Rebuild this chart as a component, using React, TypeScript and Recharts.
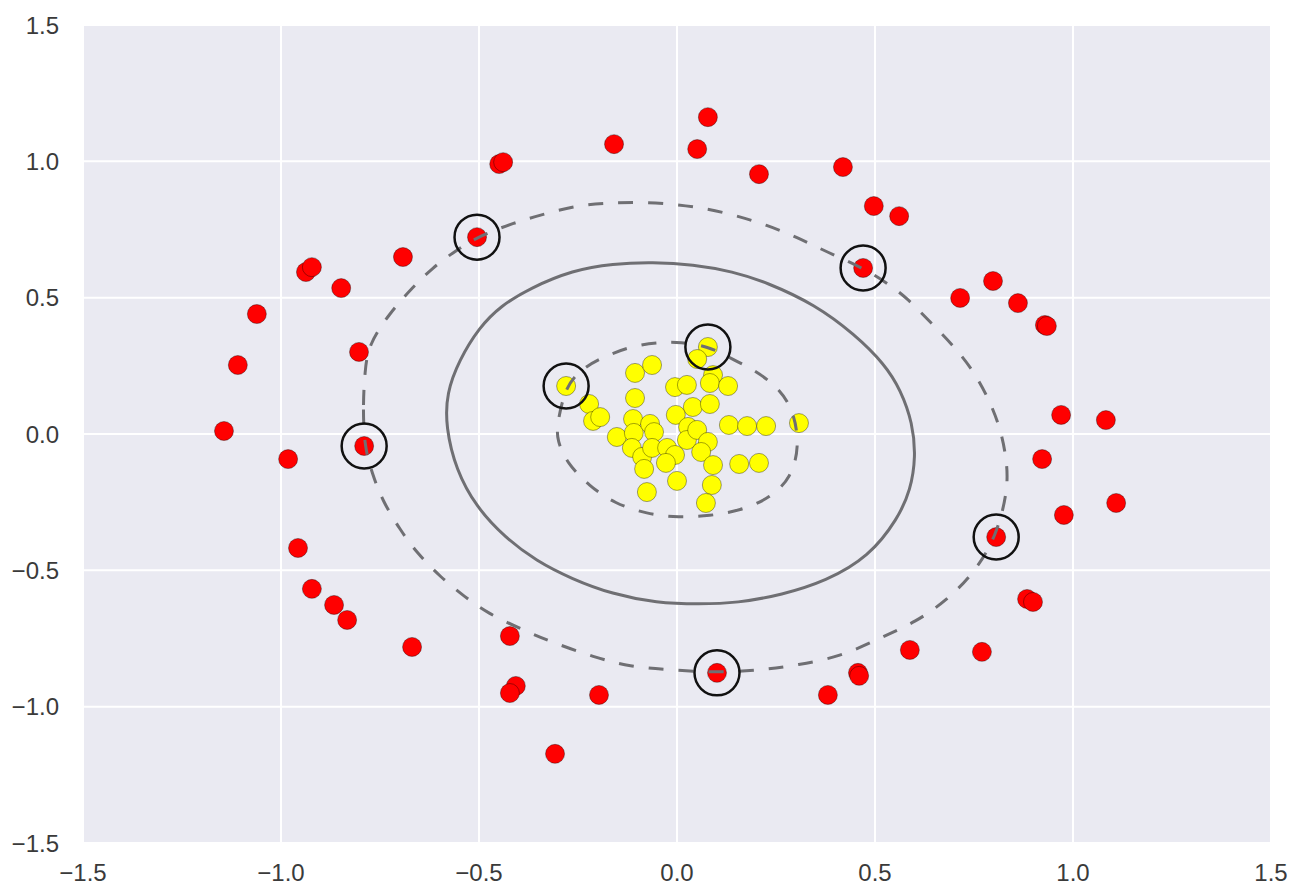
import { ScatterChart, Scatter, XAxis, YAxis, CartesianGrid } from 'recharts'

// outer ring (class 1, red)
const redPoints = [
  [-1.144, 0.011], [-1.109, 0.253], [-1.061, 0.44], [-0.937, 0.594], [-0.922, 0.612],
  [-0.848, 0.535], [-0.803, 0.301], [-0.692, 0.649], [-0.982, -0.092], [-0.79, -0.044],
  [-0.957, -0.418], [-0.922, -0.568], [-0.866, -0.627], [-0.833, -0.682], [-0.669, -0.781],
  [-0.505, 0.722], [-0.449, 0.99], [-0.439, 0.997], [-0.159, 1.063], [0.051, 1.045],
  [0.078, 1.162], [0.207, 0.953], [0.419, 0.979], [0.497, 0.836], [0.561, 0.799],
  [0.47, 0.609], [0.715, 0.499], [0.798, 0.561], [0.861, 0.48], [0.929, 0.4],
  [0.934, 0.396], [0.97, 0.07], [1.083, 0.051], [0.922, -0.092], [1.109, -0.253],
  [0.977, -0.297], [0.806, -0.378], [0.884, -0.605], [0.899, -0.616], [0.77, -0.799],
  [0.588, -0.792], [0.457, -0.876], [0.46, -0.887], [0.381, -0.957], [0.101, -0.876],
  [-0.197, -0.957], [-0.422, -0.741], [-0.407, -0.924], [-0.422, -0.95], [-0.308, -1.173],
]

// inner blob (class 0, yellow)
const yellowPoints = [
  [-0.28, 0.176], [-0.222, 0.11], [-0.212, 0.048], [-0.194, 0.062], [-0.106, 0.224],
  [-0.063, 0.253], [-0.106, 0.132], [-0.152, -0.011], [-0.111, 0.055], [-0.109, 0.004],
  [-0.068, 0.037], [-0.058, 0.007], [-0.114, -0.051], [-0.088, -0.084], [-0.083, -0.128],
  [-0.063, -0.051], [-0.025, -0.051], [-0.005, -0.077], [-0.028, -0.106], [0.0, -0.172],
  [-0.076, -0.213], [-0.005, 0.172], [0.025, 0.18], [0.078, 0.319], [0.051, 0.275],
  [0.091, 0.216], [0.083, 0.187], [0.129, 0.176], [0.04, 0.099], [0.083, 0.11],
  [-0.003, 0.07], [0.028, 0.026], [0.025, -0.022], [0.051, 0.015], [0.078, -0.029],
  [0.061, -0.066], [0.091, -0.114], [0.088, -0.187], [0.073, -0.253], [0.131, 0.033],
  [0.177, 0.029], [0.225, 0.029], [0.157, -0.11], [0.207, -0.106], [0.308, 0.04],
]

const supportVectors = [
  [-0.505, 0.722], [0.47, 0.609], [0.806, -0.378], [0.101, -0.876],
  [-0.79, -0.044], [-0.28, 0.176], [0.078, 0.319],
]

// decision function contours (closed loops)
const outerMargin = [
  [-0.79, -0.044], [-0.793, 0.114], [-0.788, 0.227], [-0.78, 0.326], [-0.725, 0.444],
  [-0.674, 0.528], [-0.616, 0.612], [-0.556, 0.675], [-0.505, 0.722], [-0.414, 0.774],
  [-0.328, 0.81], [-0.245, 0.84], [-0.169, 0.847], [-0.093, 0.851], [-0.01, 0.843],
  [0.066, 0.829], [0.146, 0.803], [0.227, 0.766], [0.303, 0.722], [0.379, 0.667],
  [0.47, 0.609], [0.53, 0.554], [0.581, 0.499], [0.639, 0.411], [0.697, 0.326],
  [0.747, 0.235], [0.785, 0.136], [0.816, 0.026], [0.833, -0.095], [0.836, -0.205],
  [0.806, -0.378], [0.75, -0.51], [0.682, -0.609], [0.604, -0.689], [0.513, -0.748],
  [0.412, -0.818], [0.303, -0.847], [0.22, -0.865], [0.101, -0.876], [-0.018, -0.865],
  [-0.119, -0.854], [-0.21, -0.818], [-0.311, -0.766], [-0.389, -0.719], [-0.48, -0.656],
  [-0.535, -0.598], [-0.598, -0.524], [-0.657, -0.436], [-0.699, -0.352], [-0.745, -0.242],
  [-0.77, -0.143],
]

const boundary = [
  [-0.584, 0.026], [-0.582, 0.15], [-0.55, 0.271], [-0.5, 0.39], [-0.445, 0.47],
  [-0.371, 0.535], [-0.263, 0.601], [-0.162, 0.625], [-0.061, 0.63], [0.04, 0.622],
  [0.141, 0.596], [0.227, 0.556], [0.348, 0.475], [0.449, 0.365], [0.525, 0.255],
  [0.565, 0.161], [0.595, 0.04], [0.603, -0.084], [0.59, -0.205], [0.558, -0.31],
  [0.485, -0.45], [0.376, -0.54], [0.265, -0.59], [0.152, -0.62], [0.056, -0.624],
  [-0.051, -0.62], [-0.164, -0.587], [-0.265, -0.532], [-0.356, -0.465], [-0.434, -0.38],
  [-0.507, -0.268], [-0.558, -0.132],
]

const innerMargin = [
  [-0.303, 0.033], [-0.282, 0.176], [-0.24, 0.237], [-0.199, 0.274], [-0.119, 0.322],
  [-0.043, 0.337], [0.008, 0.337], [0.078, 0.322], [0.126, 0.285], [0.192, 0.238],
  [0.257, 0.171], [0.296, 0.081], [0.309, -0.048], [0.288, -0.16], [0.237, -0.234],
  [0.159, -0.282], [0.083, -0.3], [0.003, -0.307], [-0.076, -0.293], [-0.157, -0.256],
  [-0.222, -0.19], [-0.278, -0.107], [-0.303, -0.022],
]

const ticks = [-1.5, -1.0, -0.5, 0.0, 0.5, 1.0, 1.5]

const toXY = (pts: number[][]) => pts.map(([x, y]) => ({ x, y }))
const fmt = (v: number) => (v < 0 ? '\u2212' : '') + Math.abs(v).toFixed(1)

const tickStyle = { fill: '#3a3a3a', fontSize: 24, fontFamily: 'Liberation Sans, Arial, sans-serif' }
const contourColor = '#6f6f73'

const dot = (fill: string) => (p: any) => (
  <circle cx={p.cx} cy={p.cy} r={9.5} fill={fill} stroke="rgba(0,0,0,0.45)" strokeWidth={0.8} />
)
const ring = (p: any) => (
  <circle cx={p.cx} cy={p.cy} r={22.5} fill="none" stroke="#111" strokeWidth={2.5} />
)
const nothing = () => <g />

export default function App() {
  return (
    <div style={{ position: 'absolute', left: 0, top: 0, background: '#fff' }}>
      <ScatterChart width={1308} height={888} margin={{ top: 25, right: 37, bottom: 0, left: 0 }}>
        <CartesianGrid fill="#EAEAF2" stroke="#fff" strokeWidth={2} horizontalValues={ticks} verticalValues={ticks} />
        <XAxis
          type="number"
          dataKey="x"
          domain={[-1.5, 1.5]}
          ticks={ticks}
          tickFormatter={fmt}
          height={45}
          axisLine={false}
          tickLine={false}
          tickSize={0}
          tickMargin={21}
          tick={tickStyle}
          interval={0}
        />
        <YAxis
          type="number"
          dataKey="y"
          domain={[-1.5, 1.5]}
          ticks={ticks}
          tickFormatter={fmt}
          width={83}
          axisLine={false}
          tickLine={false}
          tickSize={0}
          tickMargin={24}
          tick={tickStyle}
          interval={0}
        />
        <Scatter data={toXY(redPoints)} shape={dot('#ff0000')} isAnimationActive={false} />
        <Scatter data={toXY(yellowPoints)} shape={dot('#ffff00')} isAnimationActive={false} />
        <Scatter
          data={toXY(outerMargin)}
          shape={nothing}
          line={{ stroke: contourColor, strokeWidth: 3, strokeDasharray: '15 15' }}
          lineJointType="basisClosed"
          isAnimationActive={false}
        />
        <Scatter
          data={toXY(boundary)}
          shape={nothing}
          line={{ stroke: contourColor, strokeWidth: 3 }}
          lineJointType="basisClosed"
          isAnimationActive={false}
        />
        <Scatter
          data={toXY(innerMargin)}
          shape={nothing}
          line={{ stroke: contourColor, strokeWidth: 3, strokeDasharray: '15 15' }}
          lineJointType="basisClosed"
          isAnimationActive={false}
        />
        <Scatter data={toXY(supportVectors)} shape={ring} isAnimationActive={false} />
      </ScatterChart>
    </div>
  )
}
